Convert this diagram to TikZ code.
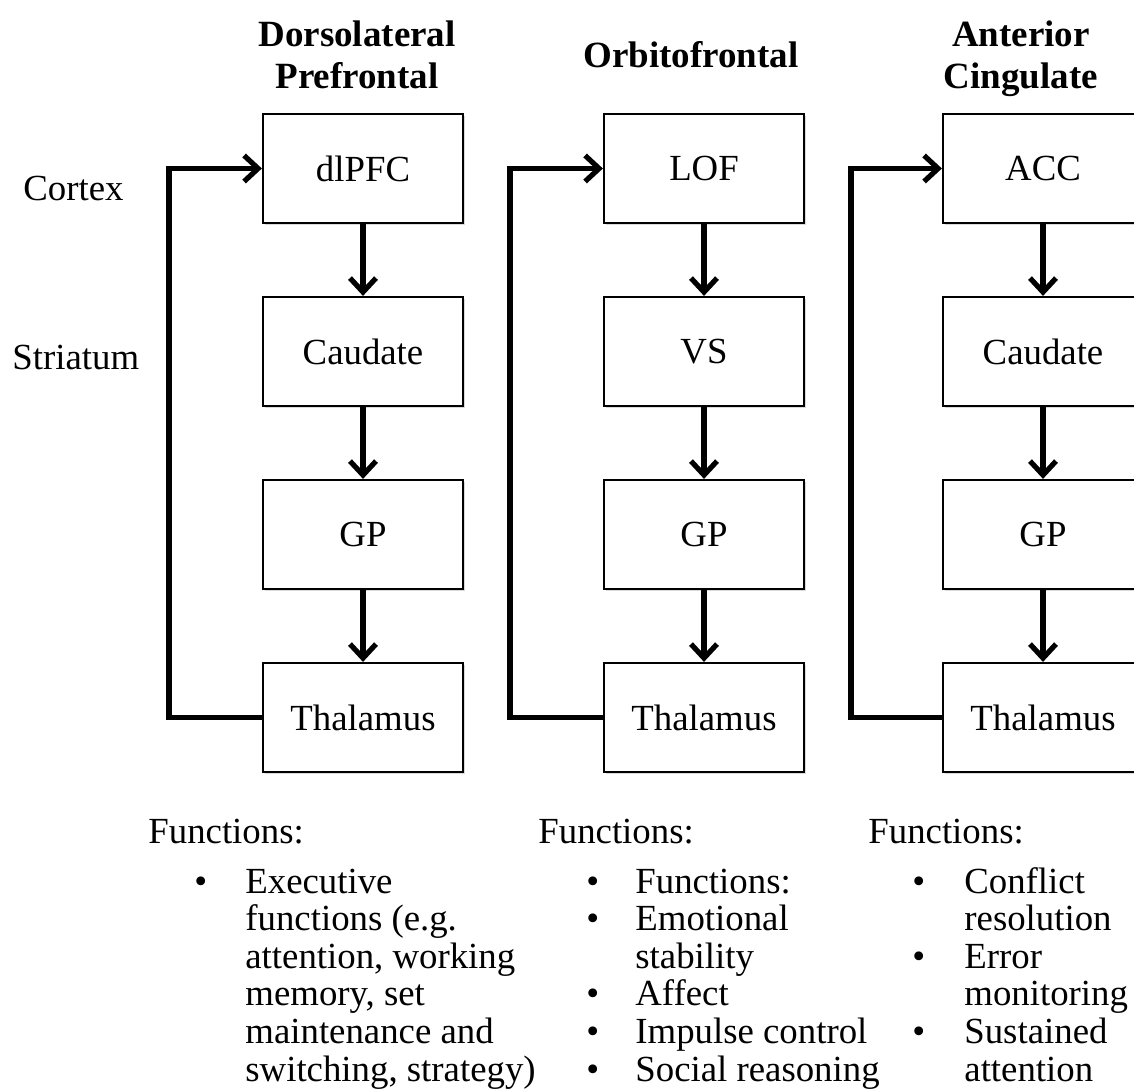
\documentclass[tikz,border=0pt]{standalone}
\usepackage{fontspec}
\setmainfont{Liberation Serif}
\usetikzlibrary{arrows.meta, shadows}

\newcommand{\bul}{\hspace*{-3pt}\textbullet}

\begin{document}
\begin{tikzpicture}[
    x=0.5pt,
    y=-0.5pt,
    region_box/.style={
        rectangle,
        draw=black,
        line width=1.1pt,
        fill=white,
        minimum width=100pt,
        minimum height=54.5pt,
        font=\fontsize{18.4}{18.4}\selectfont,
        drop shadow={shadow xshift=1pt, shadow yshift=-1pt, opacity=0.3}
    },
    flow_arrow/.style={
        -{Straight Barb[length=7pt, width=13pt]},
        line width=2.6pt
    },
    col_title/.style={
        font=\fontsize{18.5}{21}\selectfont\bfseries,
        align=center,
        inner sep=0pt
    },
    side_label/.style={
        font=\fontsize{18.4}{18.8}\selectfont,
        anchor=base west,
        inner sep=0pt
    },
    func_list/.style={
        side_label
    }
]
    \useasboundingbox (0,0) rectangle (1134,1090);

    % Column titles
    \node[col_title] (title_dl) at (357,55) {Dorsolateral\\Prefrontal};
    \node[col_title, anchor=base] (title_of) at (691,68) {Orbitofrontal};
    \node[col_title] (title_ac) at (1021,59) {Anterior\\Cingulate};

    % Row labels
    \node[side_label] (lbl_cortex) at (23,201) {Cortex};
    \node[side_label] (lbl_striatum) at (12,370) {Striatum};

    % Dorsolateral prefrontal loop
    \node[region_box] (dlpfc) at (363,168.5) {dlPFC};
    \node[region_box] (caud_dl) at (363,351.5) {Caudate};
    \node[region_box] (gp_dl) at (363,534.5) {GP};
    \node[region_box] (thal_dl) at (363,717.5) {Thalamus};

    % Orbitofrontal loop
    \node[region_box] (lof) at (704,168.5) {LOF};
    \node[region_box] (vs) at (704,351.5) {VS};
    \node[region_box] (gp_of) at (704,534.5) {GP};
    \node[region_box] (thal_of) at (704,717.5) {Thalamus};

    % Anterior cingulate loop
    \node[region_box] (acc) at (1043,168.5) {ACC};
    \node[region_box] (caud_ac) at (1043,351.5) {Caudate};
    \node[region_box] (gp_ac) at (1043,534.5) {GP};
    \node[region_box] (thal_ac) at (1043,717.5) {Thalamus};

    % Downward flows
    \draw[flow_arrow] (dlpfc.south) -- (caud_dl.north);
    \draw[flow_arrow] (caud_dl.south) -- (gp_dl.north);
    \draw[flow_arrow] (gp_dl.south) -- (thal_dl.north);
    \draw[flow_arrow] (lof.south) -- (vs.north);
    \draw[flow_arrow] (vs.south) -- (gp_of.north);
    \draw[flow_arrow] (gp_of.south) -- (thal_of.north);
    \draw[flow_arrow] (acc.south) -- (caud_ac.north);
    \draw[flow_arrow] (caud_ac.south) -- (gp_ac.north);
    \draw[flow_arrow] (gp_ac.south) -- (thal_ac.north);

    % Thalamus back to cortex
    \draw[flow_arrow] (thal_dl.west) -- ++(-93,0) |- (dlpfc.west);
    \draw[flow_arrow] (thal_of.west) -- ++(-93,0) |- (lof.west);
    \draw[flow_arrow] (thal_ac.west) -- ++(-91,0) |- (acc.west);

    % Functions
    \node[side_label] (fn_dl) at (148,843) {Functions:};
    \node[side_label] (fn_of) at (538,843) {Functions:};
    \node[side_label] (fn_ac) at (868,843) {Functions:};

    \node[func_list] (list_dl) at (200,893) {%
        \begin{tabular}[t]{@{}p{22.5pt}@{}l@{}}
        \bul & Executive\\
             & functions (e.g.\\
             & attention, working\\
             & memory, set\\
             & maintenance and\\
             & switching, strategy)
        \end{tabular}};
    \node[func_list] (list_of) at (592,893) {%
        \begin{tabular}[t]{@{}p{21.5pt}@{}l@{}}
        \bul & Functions:\\
        \bul & Emotional\\
             & stability\\
        \bul & Affect\\
        \bul & Impulse control\\
        \bul & Social reasoning
        \end{tabular}};
    \node[func_list] (list_ac) at (918,893) {%
        \begin{tabular}[t]{@{}p{23pt}@{}l@{}}
        \bul & Conflict\\
             & resolution\\
        \bul & Error\\
             & monitoring\\
        \bul & Sustained\\
             & attention
        \end{tabular}};
\end{tikzpicture}
\end{document}
